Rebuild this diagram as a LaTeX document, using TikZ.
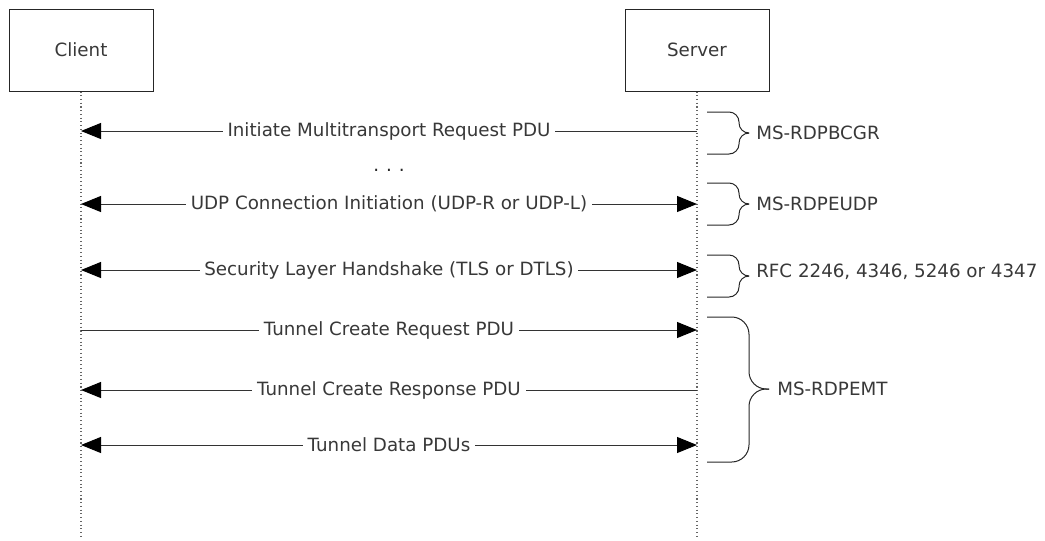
\documentclass[tikz,border=0pt]{standalone}
\usepackage{fontspec}
\setmainfont{DejaVu Sans}
\usetikzlibrary{arrows.meta}
\begin{document}
\begin{tikzpicture}[x=0.75pt,y=-0.75pt,
  txt/.style={font=\fontsize{13.7}{15}\selectfont, text=black!78},
  actor/.style={draw=black!85, line width=0.75pt, minimum width=108pt, minimum height=61.5pt, inner sep=0pt, txt},
  life/.style={draw=black!60, line width=0.8pt, dotted},
  msg/.style={draw=black!80, line width=0.75pt},
  tip/.style={-{Triangle[length=15pt,width=12pt,color=black,fill=black]}},
  bitip/.style={{Triangle[length=15pt,width=12pt,color=black,fill=black]}-{Triangle[length=15pt,width=12pt,color=black,fill=black]}},
  lbl/.style={midway, fill=white, inner sep=3.5pt, txt},
  brace/.style={draw=black!85, line width=0.75pt},
  blbl/.style={anchor=west, inner sep=0pt, txt}]
\useasboundingbox (0,0) rectangle (1045,540);

\node[actor] (client) at (81,50) {Client};
\node[actor] (server) at (697,50) {Server};
\coordinate (cend) at (81,538);
\coordinate (send) at (697,538);
\draw[life] (client.south) -- (cend);
\draw[life] (server.south) -- (send);

% lifeline points
\foreach \n/\y in {a/131,b/204,c/270,d/330,e/390,f/445}{
  \coordinate (c\n) at (81,\y);
  \coordinate (s\n) at (697,\y);
}

\draw[msg,tip] (sa) -- (ca) node[lbl] {Initiate Multitransport Request PDU};
\node[txt, anchor=base, inner sep=0pt, text=black!85] (dots) at (389,171) {.\hspace{5.2pt}.\hspace{5.2pt}.};
\draw[msg,bitip] (cb) -- (sb) node[lbl] {UDP Connection Initiation (UDP-R or UDP-L)};
\draw[msg,bitip] (cc) -- (sc) node[lbl] {Security Layer Handshake (TLS or DTLS)};
\draw[msg,tip] (cd) -- (sd) node[lbl] {Tunnel Create Request PDU};
\draw[msg,tip] (se) -- (ce) node[lbl] {Tunnel Create Response PDU};
\draw[msg,bitip] (cf) -- (sf) node[lbl] {Tunnel Data PDUs};

% braces
\draw[brace, rounded corners=7.5pt] (707,112) -- (739,112) -- (739,133) -- (748,133);
\draw[brace, rounded corners=7.5pt] (707,154) -- (739,154) -- (739,133) -- (748,133);
\node[blbl] (b1) at (756,133) {MS-RDPBCGR};

\draw[brace, rounded corners=7.5pt] (707,183) -- (739,183) -- (739,204) -- (748,204);
\draw[brace, rounded corners=7.5pt] (707,225) -- (739,225) -- (739,204) -- (748,204);
\node[blbl] (b2) at (756,204) {MS-RDPEUDP};

\draw[brace, rounded corners=7.5pt] (707,255) -- (739,255) -- (739,276) -- (748,276);
\draw[brace, rounded corners=7.5pt] (707,297) -- (739,297) -- (739,276) -- (748,276);
\node[blbl] (b3) at (756,272) {RFC 2246, 4346, 5246 or 4347};

\draw[brace, rounded corners=13pt] (707,317) -- (749,317) -- (749,389) -- (769,389);
\draw[brace, rounded corners=13pt] (707,462) -- (749,462) -- (749,389) -- (769,389);
\node[blbl] (b4) at (777,389) {MS-RDPEMT};
\end{tikzpicture}
\end{document}
